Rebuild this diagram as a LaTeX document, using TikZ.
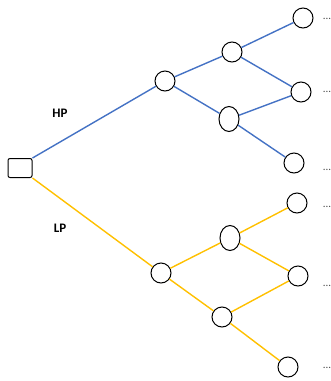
\documentclass[tikz,border=0pt]{standalone}
\usepackage{fontspec}
\setmainfont{Carlito}
\usepackage{tikz}
\usetikzlibrary{positioning,shapes}
\definecolor{hpblue}{HTML}{4472C4}
\definecolor{lpyellow}{HTML}{FFC000}

\begin{document}
\begin{tikzpicture}[x=1pt, y=-1pt,
                state/.style={draw, ellipse, line width=1pt, minimum width=20pt, minimum height=20pt, inner sep=0pt, fill=white},
                tall/.style={state, minimum height=25pt},
                root/.style={draw, rounded corners=2pt, line width=1pt, minimum width=24pt, minimum height=19pt, inner sep=0pt, fill=white},
                more/.style={font=\fontsize{11}{12}\selectfont, text=black!70},
                tag/.style={font=\bfseries\fontsize{13}{14}\selectfont}
              ]
            \useasboundingbox (0,0) rectangle (331,381);
            % states
            \node[state] (h1) at (165,81) {};
            \node[state] (h2) at (232,52) {};
            \node[tall]  (h3) at (229,119) {};
            \node[state] (h4) at (303,18) {};
            \node[state] (h5) at (301,92) {};
            \node[state] (h6) at (294,163) {};
            \node[state] (l1) at (161,273) {};
            \node[tall]  (l2) at (230,238) {};
            \node[state] (l3) at (222,317) {};
            \node[state] (l4) at (297,203) {};
            \node[state] (l5) at (298,276) {};
            \node[state] (l6) at (288,367) {};
            \node[root] (s) at (20,168) {};
            % branches
            \begin{scope} [line width=1.4pt]
            \draw[hpblue] (s.north east) -- (h1) -- (h2) -- (h4);
            \draw[hpblue] (h2) -- (h5) -- (h3) -- (h1);
            \draw[hpblue] (h3) -- (h6);
            \draw[lpyellow] (s.south east) -- (l1) -- (l2) -- (l4);
            \draw[lpyellow] (l2) -- (l5) -- (l3) -- (l1);
            \draw[lpyellow] (l3) -- (l6);
            \end{scope}
            \node[tag] (hp) at (60,113) {HP};
            \node[tag] (lp) at (60,228) {LP};
            \node[more] (d1) at (327,19) {...};
            \node[more] (d2) at (327,92) {...};
            \node[more] (d3) at (327,170) {...};
            \node[more] (d4) at (327,207) {...};
            \node[more] (d5) at (327,286) {...};
            \node[more] (d6) at (327,368) {...};
        \end{tikzpicture}
\end{document}
